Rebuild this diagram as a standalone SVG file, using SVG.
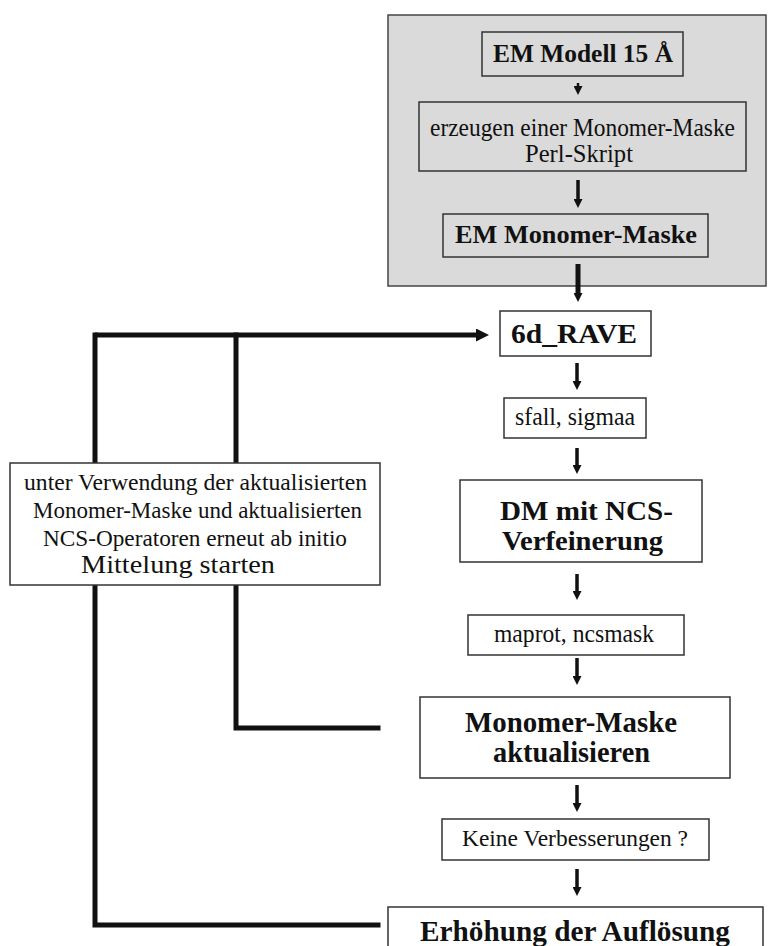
<svg xmlns="http://www.w3.org/2000/svg" width="768" height="946" viewBox="0 0 768 946">
<defs>
<style>
.box{fill:#fff;stroke:#333;stroke-width:1.5}
.gbox{fill:#dadada;stroke:#444;stroke-width:1.5}
.t{font-family:"Liberation Serif","Times New Roman",serif;fill:#111}
.b{font-weight:bold}
.ar{stroke:#111;stroke-width:3.5;fill:none;marker-end:url(#head)}
.ln{stroke:#111;stroke-width:5;fill:none;stroke-linecap:square}
</style>
<marker id="head" viewBox="0 0 10 10" refX="0" refY="5" markerWidth="10" markerHeight="9" markerUnits="userSpaceOnUse" orient="auto">
<path d="M0,0 L10,5 L0,10 z" fill="#111"/>
</marker>
<marker id="bighead" viewBox="0 0 10 10" refX="0" refY="5" markerWidth="14" markerHeight="13" markerUnits="userSpaceOnUse" orient="auto">
<path d="M0,0 L10,5 L0,10 z" fill="#111"/>
</marker>
</defs>

<rect id="group-bg" class="gbox" x="388" y="15" width="378" height="271"/>

<g id="connectors">
<path class="ln" d="M95,335 V925 H378"/>
<path class="ln" d="M236,335 V728 H378"/>
<path d="M95,335 H476" stroke="#111" stroke-width="5" fill="none" marker-end="url(#bighead)"/>
<path class="ar" d="M578,83 V86" style="stroke-width:2.5"/>
<path class="ar" d="M578,180 V199"/>
<path class="ar" d="M578,264 V293" style="stroke-width:5"/>
<path class="ar" d="M577,363 V381"/>
<path class="ar" d="M577,448 V465"/>
<path class="ar" d="M577,574 V591"/>
<path class="ar" d="M577,658 V676"/>
<path class="ar" d="M577,785 V803"/>
<path class="ar" d="M577,869 V887"/>
</g>

<g id="n-em-modell">
<rect class="box" x="482" y="32" width="201" height="44" style="fill:#dadada"/>
<text class="t b" x="493" y="62" font-size="26" textLength="180" lengthAdjust="spacingAndGlyphs">EM Modell 15 Å</text>
</g>

<g id="n-erzeugen">
<rect class="box" x="419" y="102" width="327" height="69" style="fill:#dadada"/>
<text class="t" x="430" y="136" font-size="25" textLength="305" lengthAdjust="spacingAndGlyphs">erzeugen einer Monomer-Maske</text>
<text class="t" x="525" y="162" font-size="25" textLength="108" lengthAdjust="spacingAndGlyphs">Perl-Skript</text>
</g>

<g id="n-em-monomer">
<rect class="box" x="443" y="214" width="265" height="43" style="fill:#dadada"/>
<text class="t b" x="455" y="243" font-size="25" textLength="242" lengthAdjust="spacingAndGlyphs">EM Monomer-Maske</text>
</g>

<g id="n-rave">
<rect class="box" x="500" y="311" width="151" height="45"/>
<text class="t b" x="511" y="343" font-size="28" textLength="126" lengthAdjust="spacingAndGlyphs">6d_RAVE</text>
</g>

<g id="n-sfall">
<rect class="box" x="504" y="398" width="142" height="40"/>
<text class="t" x="515" y="425" font-size="26" textLength="120" lengthAdjust="spacingAndGlyphs">sfall, sigmaa</text>
</g>

<g id="n-dm">
<rect class="box" x="460" y="480" width="242" height="82"/>
<text class="t b" x="500" y="520" font-size="28" textLength="173" lengthAdjust="spacingAndGlyphs">DM mit NCS-</text>
<text class="t b" x="502" y="550" font-size="28" textLength="161" lengthAdjust="spacingAndGlyphs">Verfeinerung</text>
</g>

<g id="n-restart">
<rect class="box" x="10" y="463" width="370" height="122"/>
<text class="t" x="24" y="490" font-size="24" textLength="343" lengthAdjust="spacingAndGlyphs">unter Verwendung der aktualisierten</text>
<text class="t" x="33" y="518" font-size="24" textLength="329" lengthAdjust="spacingAndGlyphs">Monomer-Maske und aktualisierten</text>
<text class="t" x="43" y="546" font-size="24" textLength="304" lengthAdjust="spacingAndGlyphs">NCS-Operatoren erneut ab initio</text>
<text class="t" x="81" y="573" font-size="25" textLength="194" lengthAdjust="spacingAndGlyphs">Mittelung starten</text>
</g>

<g id="n-maprot">
<rect class="box" x="468" y="615" width="216" height="40"/>
<text class="t" x="494" y="642" font-size="25" textLength="160" lengthAdjust="spacingAndGlyphs">maprot, ncsmask</text>
</g>

<g id="n-monomer-update">
<rect class="box" x="420" y="697" width="310" height="81"/>
<text class="t b" x="465" y="732" font-size="30" textLength="212" lengthAdjust="spacingAndGlyphs">Monomer-Maske</text>
<text class="t b" x="493" y="762" font-size="30" textLength="157" lengthAdjust="spacingAndGlyphs">aktualisieren</text>
</g>

<g id="n-keine">
<rect class="box" x="442" y="819" width="267" height="41"/>
<text class="t" x="462" y="846" font-size="23" textLength="226" lengthAdjust="spacingAndGlyphs">Keine Verbesserungen ?</text>
</g>

<g id="n-erhoehung">
<rect class="box" x="388" y="907" width="375" height="50"/>
<text class="t b" x="420" y="941" font-size="29" textLength="310" lengthAdjust="spacingAndGlyphs">Erhöhung der Auflösung</text>
</g>
</svg>
